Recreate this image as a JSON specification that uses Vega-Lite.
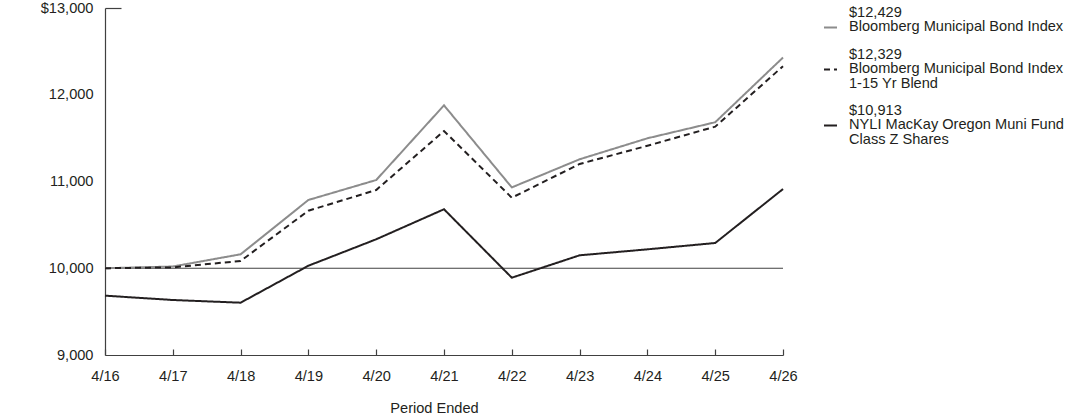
{
  "$schema": "https://vega.github.io/schema/vega-lite/v6.json",
  "autosize": "none",
  "width": 678,
  "height": 347,
  "padding": {"left": 105, "top": 8, "right": 309, "bottom": 62},
  "background": "white",
  "config": {
    "view": {"stroke": null},
    "font": "Liberation Sans",
    "axis": {"labelFont": "Liberation Sans", "titleFont": "Liberation Sans", "labelFontSize": 14.6, "titleFontSize": 14.6, "labelColor": "#231f20", "titleColor": "#231f20", "titleFontWeight": "normal", "domainColor": "#404040", "tickColor": "#404040", "grid": false},
    "legend": {"labelFont": "Liberation Sans", "labelFontSize": 14.6, "labelColor": "#231f20"}
  },
  "datasets": {
    "series": [
      {"period": "4/16", "series": "Bloomberg Municipal Bond Index", "value": 10000},
      {"period": "4/17", "series": "Bloomberg Municipal Bond Index", "value": 10020},
      {"period": "4/18", "series": "Bloomberg Municipal Bond Index", "value": 10161},
      {"period": "4/19", "series": "Bloomberg Municipal Bond Index", "value": 10787},
      {"period": "4/20", "series": "Bloomberg Municipal Bond Index", "value": 11017},
      {"period": "4/21", "series": "Bloomberg Municipal Bond Index", "value": 11878},
      {"period": "4/22", "series": "Bloomberg Municipal Bond Index", "value": 10932},
      {"period": "4/23", "series": "Bloomberg Municipal Bond Index", "value": 11256},
      {"period": "4/24", "series": "Bloomberg Municipal Bond Index", "value": 11498},
      {"period": "4/25", "series": "Bloomberg Municipal Bond Index", "value": 11683},
      {"period": "4/26", "series": "Bloomberg Municipal Bond Index", "value": 12429},
      {"period": "4/16", "series": "Bloomberg Municipal Bond Index 1-15 Yr Blend", "value": 10000},
      {"period": "4/17", "series": "Bloomberg Municipal Bond Index 1-15 Yr Blend", "value": 10010},
      {"period": "4/18", "series": "Bloomberg Municipal Bond Index 1-15 Yr Blend", "value": 10084},
      {"period": "4/19", "series": "Bloomberg Municipal Bond Index 1-15 Yr Blend", "value": 10663},
      {"period": "4/20", "series": "Bloomberg Municipal Bond Index 1-15 Yr Blend", "value": 10902},
      {"period": "4/21", "series": "Bloomberg Municipal Bond Index 1-15 Yr Blend", "value": 11582},
      {"period": "4/22", "series": "Bloomberg Municipal Bond Index 1-15 Yr Blend", "value": 10813},
      {"period": "4/23", "series": "Bloomberg Municipal Bond Index 1-15 Yr Blend", "value": 11202},
      {"period": "4/24", "series": "Bloomberg Municipal Bond Index 1-15 Yr Blend", "value": 11412},
      {"period": "4/25", "series": "Bloomberg Municipal Bond Index 1-15 Yr Blend", "value": 11632},
      {"period": "4/26", "series": "Bloomberg Municipal Bond Index 1-15 Yr Blend", "value": 12329},
      {"period": "4/16", "series": "NYLI MacKay Oregon Muni Fund Class Z Shares", "value": 9684},
      {"period": "4/17", "series": "NYLI MacKay Oregon Muni Fund Class Z Shares", "value": 9634},
      {"period": "4/18", "series": "NYLI MacKay Oregon Muni Fund Class Z Shares", "value": 9603},
      {"period": "4/19", "series": "NYLI MacKay Oregon Muni Fund Class Z Shares", "value": 10029},
      {"period": "4/20", "series": "NYLI MacKay Oregon Muni Fund Class Z Shares", "value": 10334},
      {"period": "4/21", "series": "NYLI MacKay Oregon Muni Fund Class Z Shares", "value": 10680},
      {"period": "4/22", "series": "NYLI MacKay Oregon Muni Fund Class Z Shares", "value": 9891},
      {"period": "4/23", "series": "NYLI MacKay Oregon Muni Fund Class Z Shares", "value": 10149},
      {"period": "4/24", "series": "NYLI MacKay Oregon Muni Fund Class Z Shares", "value": 10218},
      {"period": "4/25", "series": "NYLI MacKay Oregon Muni Fund Class Z Shares", "value": 10291},
      {"period": "4/26", "series": "NYLI MacKay Oregon Muni Fund Class Z Shares", "value": 10913}
    ],
    "baseline": [{"value": 10000}]
  },
  "layer": [
    {
      "data": {"name": "baseline"},
      "mark": {"type": "rule", "color": "#404040", "strokeWidth": 1.2},
      "encoding": {"y": {"field": "value", "type": "quantitative"}}
    },
    {
      "data": {"name": "series"},
      "mark": {"type": "line", "strokeWidth": 2},
      "encoding": {
        "x": {
          "field": "period", "type": "ordinal",
          "scale": {"type": "point", "padding": 0},
          "axis": {"title": "Period Ended", "labelAngle": 0, "tickSize": -6, "labelPadding": 19, "titlePadding": 18, "titleX": 329, "domainWidth": 1.2, "tickWidth": 1.2}
        },
        "y": {
          "field": "value", "type": "quantitative",
          "scale": {"domain": [9000, 13000], "nice": false, "zero": false},
          "axis": {
            "title": null, "values": [9000, 10000, 11000, 12000, 13000],
            "labelExpr": "datum.value == 13000 ? '$13,000' : format(datum.value, ',')",
            "tickSize": -16, "tickWidth": 1.2, "domainWidth": 1.2, "labelPadding": 28,
            "tickOpacity": {"condition": {"test": "datum.value == 13000", "value": 1}, "value": 0}
          }
        },
        "color": {
          "field": "series", "type": "nominal",
          "scale": {
            "domain": ["Bloomberg Municipal Bond Index", "Bloomberg Municipal Bond Index 1-15 Yr Blend", "NYLI MacKay Oregon Muni Fund Class Z Shares"],
            "range": ["#8c8c8c", "#231f20", "#231f20"]
          },
          "legend": {
            "title": null, "orient": "none", "legendX": 718, "legendY": 12,
            "padding": 0, "symbolType": "stroke", "symbolSize": 169, "symbolStrokeWidth": 2,
            "labelOffset": 11, "labelLimit": 400, "rowPadding": 11,
            "labelBaseline": "middle",
            "symbolDash": [5, 4],
            "labelExpr": "datum.value == 'Bloomberg Municipal Bond Index' ? ['$12,429', 'Bloomberg Municipal Bond Index'] : datum.value == 'Bloomberg Municipal Bond Index 1-15 Yr Blend' ? ['$12,329', 'Bloomberg Municipal Bond Index', '1-15 Yr Blend'] : ['$10,913', 'NYLI MacKay Oregon Muni Fund', 'Class Z Shares']",
            "encoding": {
              "labels": {"dy": {"value": -14.7}, "lineHeight": {"value": 14.7}}
            }
          }
        },
        "strokeDash": {
          "field": "series", "type": "nominal",
          "scale": {
            "domain": ["Bloomberg Municipal Bond Index", "Bloomberg Municipal Bond Index 1-15 Yr Blend", "NYLI MacKay Oregon Muni Fund Class Z Shares"],
            "range": [[1, 0], [6, 4], [1, 0]]
          },
          "legend": null
        }
      }
    }
  ]
}
